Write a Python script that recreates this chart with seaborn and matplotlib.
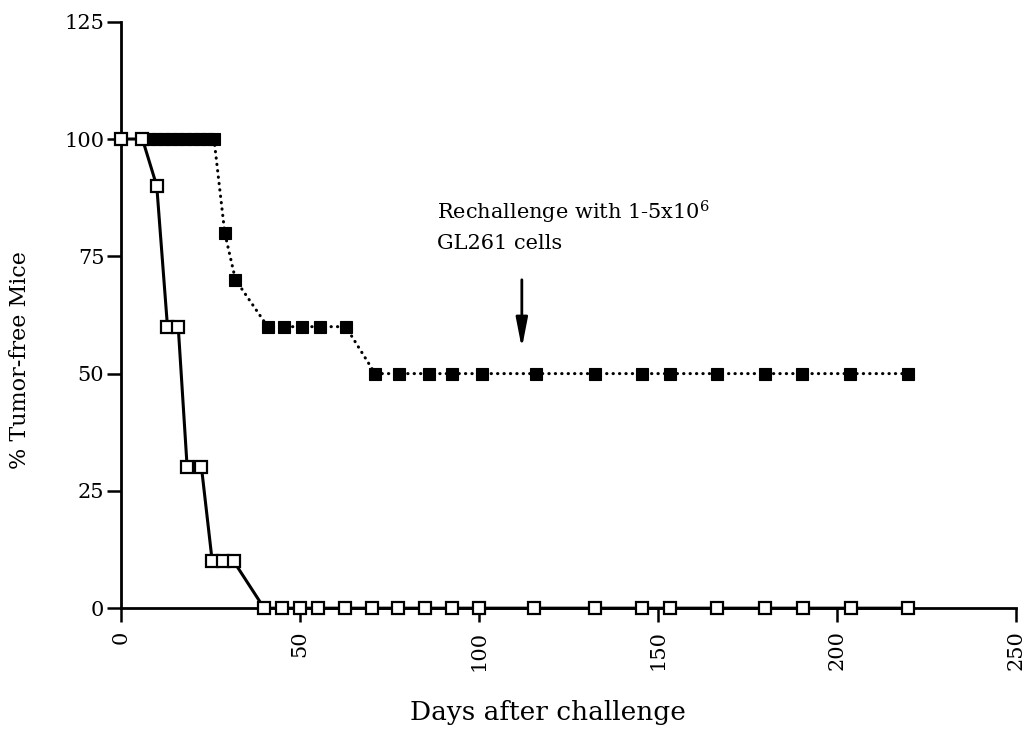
import numpy as np
import pandas as pd
import seaborn as sns
import matplotlib.pyplot as plt

# Survival data
open_days = [0, 6, 10, 13, 16, 18.5, 22.5, 25.5, 28.5, 31.5, 40, 45, 50, 55, 62.5,
             70, 77.5, 85, 92.5, 100, 115.5, 132.5, 145.5, 153.5, 166.5, 180, 190.5, 204, 220]
open_pct = [100, 100, 90, 60, 60, 30, 30, 10, 10, 10, 0, 0, 0, 0, 0,
            0, 0, 0, 0, 0, 0, 0, 0, 0, 0, 0, 0, 0, 0]

filled_days = [8, 10, 12, 14, 16, 18, 20, 22, 24, 26, 29, 32, 41, 45.5, 50.5, 55.5, 62.8,
               71, 77.7, 86, 92.5, 100.8, 115.9, 132.4, 145.5, 153.4, 166.5, 180, 190.2, 203.6, 219.8]
filled_pct = [100, 100, 100, 100, 100, 100, 100, 100, 100, 100, 80, 70, 60, 60, 60, 60, 60,
              50, 50, 50, 50, 50, 50, 50, 50, 50, 50, 50, 50, 50, 50]

x_ticks = [0, 50, 100, 150, 200, 250]
y_ticks = [0, 25, 50, 75, 100, 125]

df_open = pd.DataFrame({'Days': open_days, 'Pct': open_pct})
df_filled = pd.DataFrame({'Days': filled_days, 'Pct': filled_pct})

sns.set_style('ticks')
plt.rcParams['font.family'] = ['DejaVu Serif']
plt.rcParams['mathtext.fontset'] = 'dejavuserif'
plt.rcParams['text.color'] = 'black'
plt.rcParams['axes.labelcolor'] = 'black'
plt.rcParams['xtick.color'] = 'black'
plt.rcParams['ytick.color'] = 'black'

fig = plt.figure(figsize=(10.25, 7.49), dpi=100)
ax = fig.add_axes([0.118, 0.188, 0.873, 0.783])

# filled squares, dotted line
sns.lineplot(data=df_filled, x='Days', y='Pct', ax=ax, sort=False, estimator=None,
             color='black', linewidth=2.2, linestyle=(0, (0.1, 2.0)),
             dash_capstyle='round', marker='s', markersize=8.5,
             markerfacecolor='black', markeredgecolor='black', markeredgewidth=0.8,
             clip_on=False)

# open squares, solid line
sns.lineplot(data=df_open, x='Days', y='Pct', ax=ax, sort=False, estimator=None,
             color='black', linewidth=2.2, marker='s', markersize=8,
             markerfacecolor='white', markeredgecolor='black', markeredgewidth=1.6,
             clip_on=False, zorder=3)

ax.set_xlim(0, 250)
ax.set_ylim(0, 125)
ax.set_xticks(x_ticks)
ax.set_yticks(y_ticks)
ax.set_xticklabels([str(t) for t in x_ticks], rotation=90, fontsize=15)
ax.set_yticklabels([str(t) for t in y_ticks], fontsize=15)
ax.tick_params(axis='both', direction='out', length=10, width=1.8, color='black')
ax.tick_params(axis='x', pad=6)
ax.tick_params(axis='y', pad=2)

sns.despine(ax=ax)
for side in ['left', 'bottom']:
    ax.spines[side].set_linewidth(2.0)
    ax.spines[side].set_color('black')

ax.set_xlabel('Days after challenge', fontsize=19)
ax.set_ylabel('% Tumor-free Mice', fontsize=16)
ax.xaxis.set_label_coords(0.477, -0.157)
ax.yaxis.set_label_coords(-0.1, 0.423)

ax.text(88.3, 84.4, 'Rechallenge with 1-5x10$^{6}$', fontsize=15, va='center', ha='left')
ax.text(88.3, 77.8, 'GL261 cells', fontsize=15, va='center', ha='left')
ax.annotate('', xy=(112, 55.4), xytext=(112, 70),
            arrowprops=dict(arrowstyle='-|>,head_length=1.8,head_width=0.35',
                            color='black', lw=2, shrinkA=0, shrinkB=0))

fig.savefig('out.png', dpi=100)
